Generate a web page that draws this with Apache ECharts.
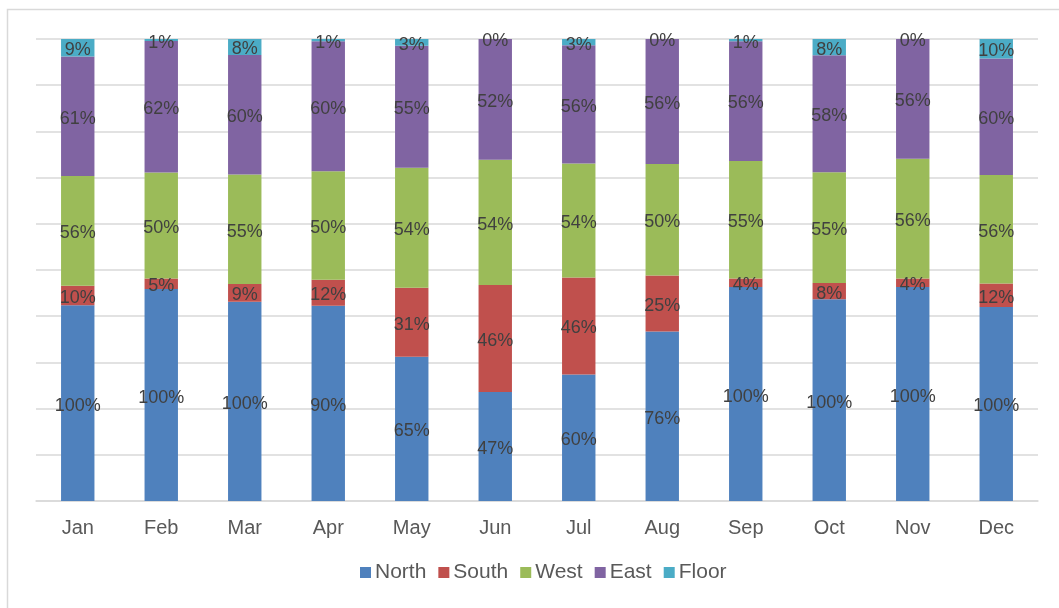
<!DOCTYPE html>
<html>
<head>
<meta charset="utf-8">
<script src="https://cdn.jsdelivr.net/npm/echarts@6/dist/echarts.min.js"></script>
<style>
html,body{margin:0;padding:0;background:#fff;}
#chart{width:1059px;height:608px;}
</style>
</head>
<body>
<div id="chart"></div>
<script>
const categories = ['Jan','Feb','Mar','Apr','May','Jun','Jul','Aug','Sep','Oct','Nov','Dec'];
const north = [100,100,100,90,65,47,60,76,100,100,100,100];
const south = [10,5,9,12,31,46,46,25,4,8,4,12];
const west  = [56,50,55,50,54,54,54,50,55,55,56,56];
const east  = [61,62,60,60,55,52,56,56,56,58,56,60];
const floor = [9,1,8,1,3,0,3,0,1,8,0,10];
const seriesNames = ['North','South','West','East','Floor'];
const seriesColors = ['#4f81bd','#c0504d','#9bbb59','#8064a2','#4bacc6'];
const rawSeries = [north, south, west, east, floor];

const totals = categories.map((_, i) => rawSeries.reduce((s, arr) => s + arr[i], 0));

const FONT = '"Liberation Sans", Arial, sans-serif';

const series = rawSeries.map((arr, k) => ({
  name: seriesNames[k],
  type: 'bar',
  stack: 'total',
  barWidth: '40%',
  clip: false,
  itemStyle: { color: seriesColors[k] },
  label: {
    show: true,
    position: 'inside',
    color: '#404040',
    fontSize: 18,
    fontFamily: FONT,
    offset: [0, 2.5],
    formatter: p => arr[p.dataIndex] + '%'
  },
  emphasis: { disabled: true },
  data: arr.map((v, i) => v / totals[i] * 100)
}));

const chart = echarts.init(document.getElementById('chart'), null, { renderer: 'canvas' });
chart.setOption({
  animation: false,
  textStyle: { fontFamily: FONT },
  grid: { left: 36, right: 21, top: 39, bottom: 107, containLabel: false },
  legend: {
    data: seriesNames,
    left: 355,
    top: 557,
    icon: 'rect',
    itemWidth: 11,
    itemHeight: 11,
    itemGap: 12,
    textStyle: { color: '#595959', fontSize: 21, fontFamily: FONT, padding: [0,0,0,-1] }
  },
  xAxis: {
    type: 'category',
    data: categories,
    axisLine: { lineStyle: { color: '#d9d9d9', width: 1.5 } },
    axisTick: { show: false },
    axisLabel: { color: '#595959', fontSize: 20, fontFamily: FONT, margin: 17 }
  },
  yAxis: {
    type: 'value',
    min: 0,
    max: 100,
    interval: 10,
    axisLabel: { show: false },
    axisLine: { show: false },
    axisTick: { show: false },
    splitLine: { lineStyle: { color: '#d9d9d9', width: 1.5 } }
  },
  graphic: [{
    type: 'rect',
    shape: { x: 7.5, y: 9.5, width: 1200, height: 800 },
    style: { fill: 'none', stroke: '#d9d9d9', lineWidth: 1.5 },
    silent: true,
    z: -1
  }],
  series: series
});
</script>
</body>
</html>
